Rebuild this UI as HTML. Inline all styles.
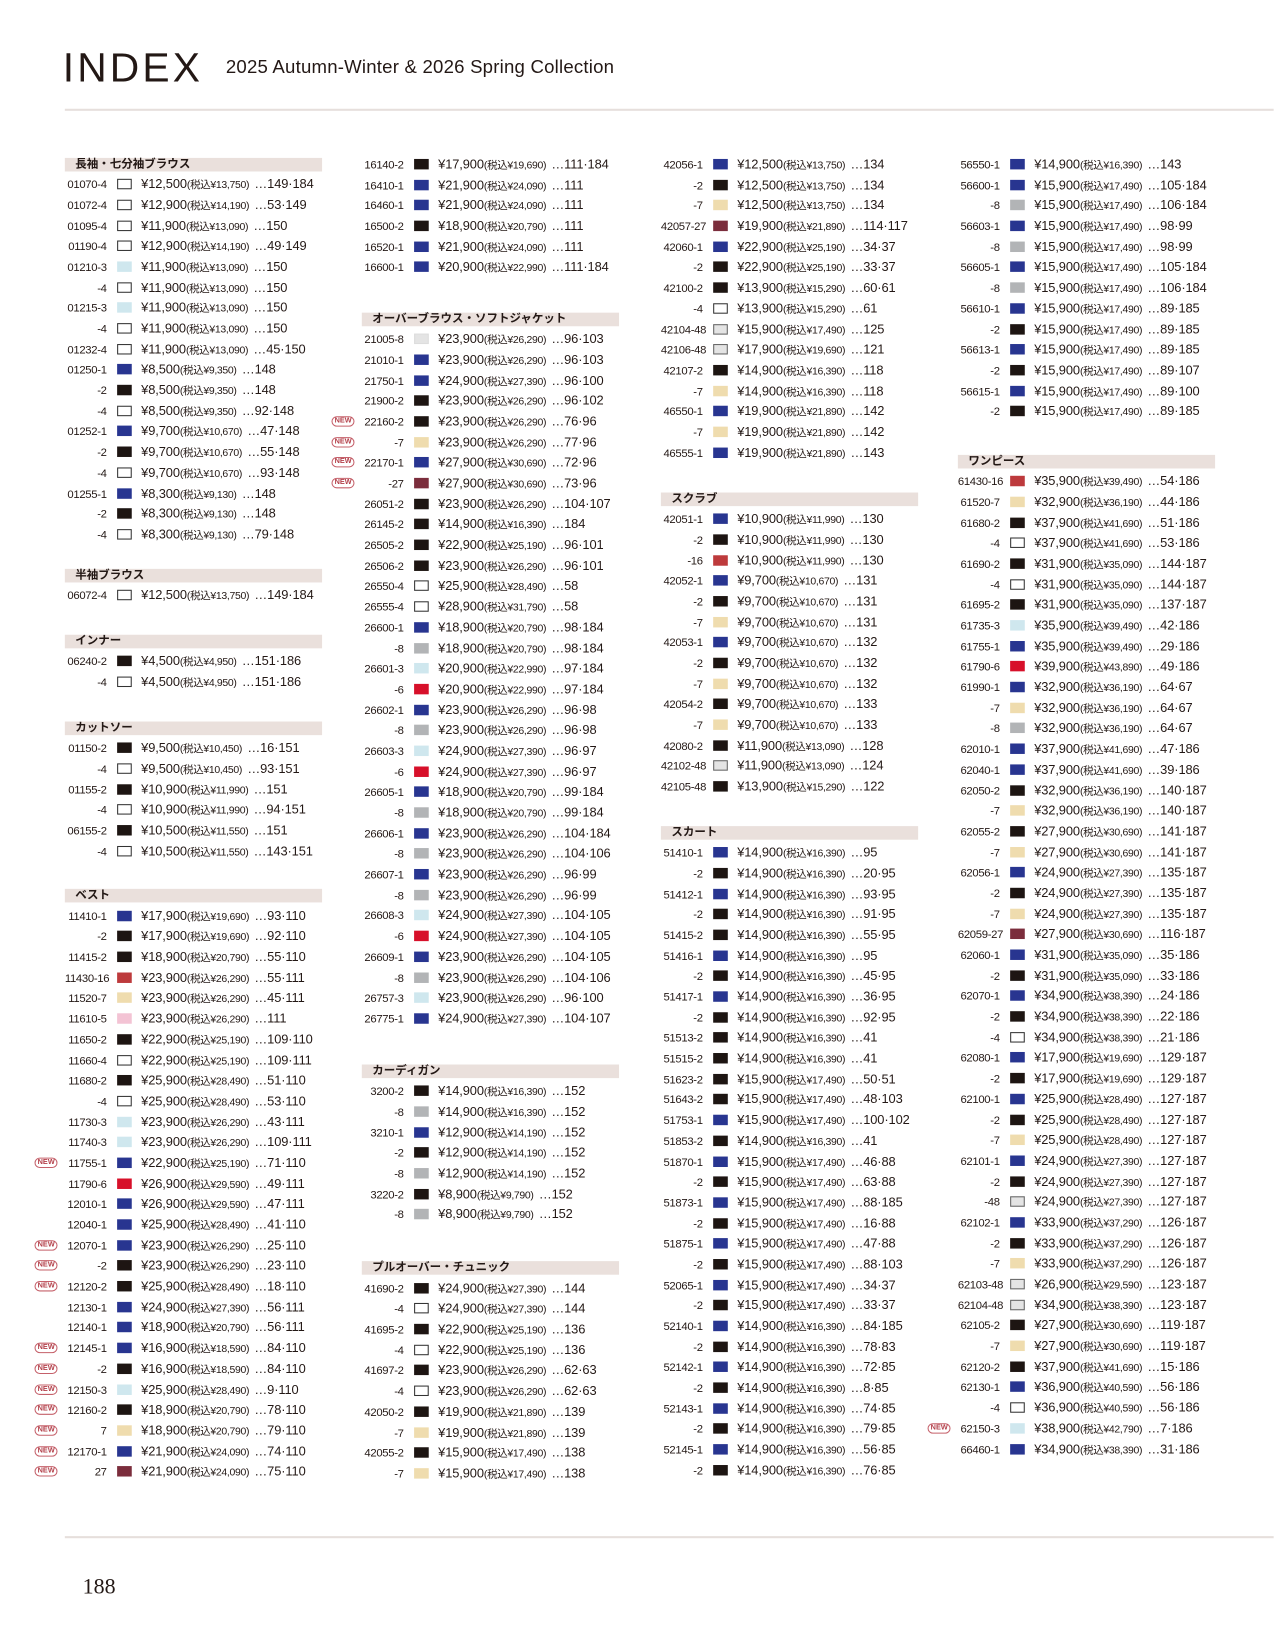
<!DOCTYPE html>
<html><head><meta charset="utf-8"><style>
html,body{margin:0;padding:0;background:#fff;}
body{width:1280px;height:1634px;overflow:hidden;position:relative;}
#pg{position:absolute;left:0;top:0;width:1224px;height:1563px;transform:scale(1.0457);transform-origin:0 0;font-family:"Liberation Sans","Noto Sans CJK JP",sans-serif;color:#231815;}
.t1{position:absolute;left:60px;top:44px;font-size:39px;letter-spacing:3px;font-weight:300;line-height:44px;}
.t2{position:absolute;left:216px;top:53px;font-size:17.8px;line-height:22px;letter-spacing:.2px;}
.hl{position:absolute;left:62px;width:1156px;height:2px;background:#e6dfdc;}
.sec{position:absolute;width:280px;}
.h{height:13px;background:#eae0dc;font-size:11px;font-weight:bold;line-height:13px;padding-left:10px;width:236px;margin-bottom:2.7px;}
.r{height:19.7px;line-height:19.7px;position:relative;white-space:nowrap;}
.r b{font-weight:normal;display:inline-block;width:40px;text-align:right;font-size:10.8px;letter-spacing:-.3px;}
.r s{display:inline-block;width:14px;height:10px;margin:0 9px 0 10px;vertical-align:-1px;box-sizing:border-box;}
.r span{font-size:12.3px;letter-spacing:-.1px;}
.r small{font-size:10px;letter-spacing:-.3px;}
.r small::after{content:"";display:inline-block;width:5px;}
.r i{position:absolute;left:-29px;top:5px;font-style:normal;font-size:7px;color:#b3404a;border:1px solid #c5606a;border-radius:6px;padding:0 2px;line-height:8px;font-weight:bold;}
.k{background:#1d1512}.u{background:#283590}.w{border:1px solid #333;background:#fff}.g{background:#b2b4b6}.l{background:#cfe7ee}.e{background:#efdcae}.rd{background:#d7102a}.m{background:#7b2d3c}.p{background:#f3c3d4}.d{background:#e4e4e4;border:1px solid #666}.dr{background:#bd3a3c}
.pn{position:absolute;left:79px;top:1505px;font-family:"Liberation Serif",serif;font-size:21px;}
</style></head><body><div id="pg">
<div class="t1">INDEX</div>
<div class="t2">2025 Autumn-Winter &amp; 2026 Spring Collection</div>
<div class="hl" style="top:104px"></div>
<div class="hl" style="top:1469px"></div>
<div class="pn">188</div>

<!-- col1 -->
<div class="sec" style="left:62px;top:150.5px"><div class="h">長袖・七分袖ブラウス</div>
<div class="r"><b>01070-4</b><s class="w"></s><span>¥12,500<small>(税込¥13,750)</small>…149·184</span></div>
<div class="r"><b>01072-4</b><s class="w"></s><span>¥12,900<small>(税込¥14,190)</small>…53·149</span></div>
<div class="r"><b>01095-4</b><s class="w"></s><span>¥11,900<small>(税込¥13,090)</small>…150</span></div>
<div class="r"><b>01190-4</b><s class="w"></s><span>¥12,900<small>(税込¥14,190)</small>…49·149</span></div>
<div class="r"><b>01210-3</b><s class="l"></s><span>¥11,900<small>(税込¥13,090)</small>…150</span></div>
<div class="r"><b>-4</b><s class="w"></s><span>¥11,900<small>(税込¥13,090)</small>…150</span></div>
<div class="r"><b>01215-3</b><s class="l"></s><span>¥11,900<small>(税込¥13,090)</small>…150</span></div>
<div class="r"><b>-4</b><s class="w"></s><span>¥11,900<small>(税込¥13,090)</small>…150</span></div>
<div class="r"><b>01232-4</b><s class="w"></s><span>¥11,900<small>(税込¥13,090)</small>…45·150</span></div>
<div class="r"><b>01250-1</b><s class="u"></s><span>¥8,500<small>(税込¥9,350)</small>…148</span></div>
<div class="r"><b>-2</b><s class="k"></s><span>¥8,500<small>(税込¥9,350)</small>…148</span></div>
<div class="r"><b>-4</b><s class="w"></s><span>¥8,500<small>(税込¥9,350)</small>…92·148</span></div>
<div class="r"><b>01252-1</b><s class="u"></s><span>¥9,700<small>(税込¥10,670)</small>…47·148</span></div>
<div class="r"><b>-2</b><s class="k"></s><span>¥9,700<small>(税込¥10,670)</small>…55·148</span></div>
<div class="r"><b>-4</b><s class="w"></s><span>¥9,700<small>(税込¥10,670)</small>…93·148</span></div>
<div class="r"><b>01255-1</b><s class="u"></s><span>¥8,300<small>(税込¥9,130)</small>…148</span></div>
<div class="r"><b>-2</b><s class="k"></s><span>¥8,300<small>(税込¥9,130)</small>…148</span></div>
<div class="r"><b>-4</b><s class="w"></s><span>¥8,300<small>(税込¥9,130)</small>…79·148</span></div>
</div>
<div class="sec" style="left:62px;top:543.5px"><div class="h">半袖ブラウス</div>
<div class="r"><b>06072-4</b><s class="w"></s><span>¥12,500<small>(税込¥13,750)</small>…149·184</span></div></div>
<div class="sec" style="left:62px;top:606.5px"><div class="h">インナー</div>
<div class="r"><b>06240-2</b><s class="k"></s><span>¥4,500<small>(税込¥4,950)</small>…151·186</span></div>
<div class="r"><b>-4</b><s class="w"></s><span>¥4,500<small>(税込¥4,950)</small>…151·186</span></div></div>
<div class="sec" style="left:62px;top:689.5px"><div class="h">カットソー</div>
<div class="r"><b>01150-2</b><s class="k"></s><span>¥9,500<small>(税込¥10,450)</small>…16·151</span></div>
<div class="r"><b>-4</b><s class="w"></s><span>¥9,500<small>(税込¥10,450)</small>…93·151</span></div>
<div class="r"><b>01155-2</b><s class="k"></s><span>¥10,900<small>(税込¥11,990)</small>…151</span></div>
<div class="r"><b>-4</b><s class="w"></s><span>¥10,900<small>(税込¥11,990)</small>…94·151</span></div>
<div class="r"><b>06155-2</b><s class="k"></s><span>¥10,500<small>(税込¥11,550)</small>…151</span></div>
<div class="r"><b>-4</b><s class="w"></s><span>¥10,500<small>(税込¥11,550)</small>…143·151</span></div></div>
<div class="sec" style="left:62px;top:850px"><div class="h">ベスト</div>
<div class="r"><b>11410-1</b><s class="u"></s><span>¥17,900<small>(税込¥19,690)</small>…93·110</span></div>
<div class="r"><b>-2</b><s class="k"></s><span>¥17,900<small>(税込¥19,690)</small>…92·110</span></div>
<div class="r"><b>11415-2</b><s class="k"></s><span>¥18,900<small>(税込¥20,790)</small>…55·110</span></div>
<div class="r"><b>11430-16</b><s class="dr"></s><span>¥23,900<small>(税込¥26,290)</small>…55·111</span></div>
<div class="r"><b>11520-7</b><s class="e"></s><span>¥23,900<small>(税込¥26,290)</small>…45·111</span></div>
<div class="r"><b>11610-5</b><s class="p"></s><span>¥23,900<small>(税込¥26,290)</small>…111</span></div>
<div class="r"><b>11650-2</b><s class="k"></s><span>¥22,900<small>(税込¥25,190)</small>…109·110</span></div>
<div class="r"><b>11660-4</b><s class="w"></s><span>¥22,900<small>(税込¥25,190)</small>…109·111</span></div>
<div class="r"><b>11680-2</b><s class="k"></s><span>¥25,900<small>(税込¥28,490)</small>…51·110</span></div>
<div class="r"><b>-4</b><s class="w"></s><span>¥25,900<small>(税込¥28,490)</small>…53·110</span></div>
<div class="r"><b>11730-3</b><s class="l"></s><span>¥23,900<small>(税込¥26,290)</small>…43·111</span></div>
<div class="r"><b>11740-3</b><s class="l"></s><span>¥23,900<small>(税込¥26,290)</small>…109·111</span></div>
<div class="r"><i>NEW</i><b>11755-1</b><s class="u"></s><span>¥22,900<small>(税込¥25,190)</small>…71·110</span></div>
<div class="r"><b>11790-6</b><s class="rd"></s><span>¥26,900<small>(税込¥29,590)</small>…49·111</span></div>
<div class="r"><b>12010-1</b><s class="u"></s><span>¥26,900<small>(税込¥29,590)</small>…47·111</span></div>
<div class="r"><b>12040-1</b><s class="u"></s><span>¥25,900<small>(税込¥28,490)</small>…41·110</span></div>
<div class="r"><i>NEW</i><b>12070-1</b><s class="u"></s><span>¥23,900<small>(税込¥26,290)</small>…25·110</span></div>
<div class="r"><i>NEW</i><b>-2</b><s class="k"></s><span>¥23,900<small>(税込¥26,290)</small>…23·110</span></div>
<div class="r"><i>NEW</i><b>12120-2</b><s class="k"></s><span>¥25,900<small>(税込¥28,490)</small>…18·110</span></div>
<div class="r"><b>12130-1</b><s class="u"></s><span>¥24,900<small>(税込¥27,390)</small>…56·111</span></div>
<div class="r"><b>12140-1</b><s class="u"></s><span>¥18,900<small>(税込¥20,790)</small>…56·111</span></div>
<div class="r"><i>NEW</i><b>12145-1</b><s class="u"></s><span>¥16,900<small>(税込¥18,590)</small>…84·110</span></div>
<div class="r"><i>NEW</i><b>-2</b><s class="k"></s><span>¥16,900<small>(税込¥18,590)</small>…84·110</span></div>
<div class="r"><i>NEW</i><b>12150-3</b><s class="l"></s><span>¥25,900<small>(税込¥28,490)</small>…9·110</span></div>
<div class="r"><i>NEW</i><b>12160-2</b><s class="k"></s><span>¥18,900<small>(税込¥20,790)</small>…78·110</span></div>
<div class="r"><i>NEW</i><b>7</b><s class="e"></s><span>¥18,900<small>(税込¥20,790)</small>…79·110</span></div>
<div class="r"><i>NEW</i><b>12170-1</b><s class="u"></s><span>¥21,900<small>(税込¥24,090)</small>…74·110</span></div>
<div class="r"><i>NEW</i><b>27</b><s class="m"></s><span>¥21,900<small>(税込¥24,090)</small>…75·110</span></div>
</div>

<!-- col2 -->
<div class="sec" style="left:346px;top:147px">
<div class="r"><b>16140-2</b><s class="k"></s><span>¥17,900<small>(税込¥19,690)</small>…111·184</span></div>
<div class="r"><b>16410-1</b><s class="u"></s><span>¥21,900<small>(税込¥24,090)</small>…111</span></div>
<div class="r"><b>16460-1</b><s class="u"></s><span>¥21,900<small>(税込¥24,090)</small>…111</span></div>
<div class="r"><b>16500-2</b><s class="k"></s><span>¥18,900<small>(税込¥20,790)</small>…111</span></div>
<div class="r"><b>16520-1</b><s class="u"></s><span>¥21,900<small>(税込¥24,090)</small>…111</span></div>
<div class="r"><b>16600-1</b><s class="u"></s><span>¥20,900<small>(税込¥22,990)</small>…111·184</span></div></div>
<div class="sec" style="left:346px;top:298.5px"><div class="h">オーバーブラウス・ソフトジャケット</div>
<div class="r"><b>21005-8</b><s class="d" style="border-color:#ddd"></s><span>¥23,900<small>(税込¥26,290)</small>…96·103</span></div>
<div class="r"><b>21010-1</b><s class="u"></s><span>¥23,900<small>(税込¥26,290)</small>…96·103</span></div>
<div class="r"><b>21750-1</b><s class="u"></s><span>¥24,900<small>(税込¥27,390)</small>…96·100</span></div>
<div class="r"><b>21900-2</b><s class="k"></s><span>¥23,900<small>(税込¥26,290)</small>…96·102</span></div>
<div class="r"><i>NEW</i><b>22160-2</b><s class="k"></s><span>¥23,900<small>(税込¥26,290)</small>…76·96</span></div>
<div class="r"><i>NEW</i><b>-7</b><s class="e"></s><span>¥23,900<small>(税込¥26,290)</small>…77·96</span></div>
<div class="r"><i>NEW</i><b>22170-1</b><s class="u"></s><span>¥27,900<small>(税込¥30,690)</small>…72·96</span></div>
<div class="r"><i>NEW</i><b>-27</b><s class="m"></s><span>¥27,900<small>(税込¥30,690)</small>…73·96</span></div>
<div class="r"><b>26051-2</b><s class="k"></s><span>¥23,900<small>(税込¥26,290)</small>…104·107</span></div>
<div class="r"><b>26145-2</b><s class="k"></s><span>¥14,900<small>(税込¥16,390)</small>…184</span></div>
<div class="r"><b>26505-2</b><s class="k"></s><span>¥22,900<small>(税込¥25,190)</small>…96·101</span></div>
<div class="r"><b>26506-2</b><s class="k"></s><span>¥23,900<small>(税込¥26,290)</small>…96·101</span></div>
<div class="r"><b>26550-4</b><s class="w"></s><span>¥25,900<small>(税込¥28,490)</small>…58</span></div>
<div class="r"><b>26555-4</b><s class="w"></s><span>¥28,900<small>(税込¥31,790)</small>…58</span></div>
<div class="r"><b>26600-1</b><s class="u"></s><span>¥18,900<small>(税込¥20,790)</small>…98·184</span></div>
<div class="r"><b>-8</b><s class="g"></s><span>¥18,900<small>(税込¥20,790)</small>…98·184</span></div>
<div class="r"><b>26601-3</b><s class="l"></s><span>¥20,900<small>(税込¥22,990)</small>…97·184</span></div>
<div class="r"><b>-6</b><s class="rd"></s><span>¥20,900<small>(税込¥22,990)</small>…97·184</span></div>
<div class="r"><b>26602-1</b><s class="u"></s><span>¥23,900<small>(税込¥26,290)</small>…96·98</span></div>
<div class="r"><b>-8</b><s class="g"></s><span>¥23,900<small>(税込¥26,290)</small>…96·98</span></div>
<div class="r"><b>26603-3</b><s class="l"></s><span>¥24,900<small>(税込¥27,390)</small>…96·97</span></div>
<div class="r"><b>-6</b><s class="rd"></s><span>¥24,900<small>(税込¥27,390)</small>…96·97</span></div>
<div class="r"><b>26605-1</b><s class="u"></s><span>¥18,900<small>(税込¥20,790)</small>…99·184</span></div>
<div class="r"><b>-8</b><s class="g"></s><span>¥18,900<small>(税込¥20,790)</small>…99·184</span></div>
<div class="r"><b>26606-1</b><s class="u"></s><span>¥23,900<small>(税込¥26,290)</small>…104·184</span></div>
<div class="r"><b>-8</b><s class="g"></s><span>¥23,900<small>(税込¥26,290)</small>…104·106</span></div>
<div class="r"><b>26607-1</b><s class="u"></s><span>¥23,900<small>(税込¥26,290)</small>…96·99</span></div>
<div class="r"><b>-8</b><s class="g"></s><span>¥23,900<small>(税込¥26,290)</small>…96·99</span></div>
<div class="r"><b>26608-3</b><s class="l"></s><span>¥24,900<small>(税込¥27,390)</small>…104·105</span></div>
<div class="r"><b>-6</b><s class="rd"></s><span>¥24,900<small>(税込¥27,390)</small>…104·105</span></div>
<div class="r"><b>26609-1</b><s class="u"></s><span>¥23,900<small>(税込¥26,290)</small>…104·105</span></div>
<div class="r"><b>-8</b><s class="g"></s><span>¥23,900<small>(税込¥26,290)</small>…104·106</span></div>
<div class="r"><b>26757-3</b><s class="l"></s><span>¥23,900<small>(税込¥26,290)</small>…96·100</span></div>
<div class="r"><b>26775-1</b><s class="u"></s><span>¥24,900<small>(税込¥27,390)</small>…104·107</span></div></div>
<div class="sec" style="left:346px;top:1017.5px"><div class="h">カーディガン</div>
<div class="r"><b>3200-2</b><s class="k"></s><span>¥14,900<small>(税込¥16,390)</small>…152</span></div>
<div class="r"><b>-8</b><s class="g"></s><span>¥14,900<small>(税込¥16,390)</small>…152</span></div>
<div class="r"><b>3210-1</b><s class="u"></s><span>¥12,900<small>(税込¥14,190)</small>…152</span></div>
<div class="r"><b>-2</b><s class="k"></s><span>¥12,900<small>(税込¥14,190)</small>…152</span></div>
<div class="r"><b>-8</b><s class="g"></s><span>¥12,900<small>(税込¥14,190)</small>…152</span></div>
<div class="r"><b>3220-2</b><s class="k"></s><span>¥8,900<small>(税込¥9,790)</small>…152</span></div>
<div class="r"><b>-8</b><s class="g"></s><span>¥8,900<small>(税込¥9,790)</small>…152</span></div></div>
<div class="sec" style="left:346px;top:1206px"><div class="h">プルオーバー・チュニック</div>
<div class="r"><b>41690-2</b><s class="k"></s><span>¥24,900<small>(税込¥27,390)</small>…144</span></div>
<div class="r"><b>-4</b><s class="w"></s><span>¥24,900<small>(税込¥27,390)</small>…144</span></div>
<div class="r"><b>41695-2</b><s class="k"></s><span>¥22,900<small>(税込¥25,190)</small>…136</span></div>
<div class="r"><b>-4</b><s class="w"></s><span>¥22,900<small>(税込¥25,190)</small>…136</span></div>
<div class="r"><b>41697-2</b><s class="k"></s><span>¥23,900<small>(税込¥26,290)</small>…62·63</span></div>
<div class="r"><b>-4</b><s class="w"></s><span>¥23,900<small>(税込¥26,290)</small>…62·63</span></div>
<div class="r"><b>42050-2</b><s class="k"></s><span>¥19,900<small>(税込¥21,890)</small>…139</span></div>
<div class="r"><b>-7</b><s class="e"></s><span>¥19,900<small>(税込¥21,890)</small>…139</span></div>
<div class="r"><b>42055-2</b><s class="k"></s><span>¥15,900<small>(税込¥17,490)</small>…138</span></div>
<div class="r"><b>-7</b><s class="e"></s><span>¥15,900<small>(税込¥17,490)</small>…138</span></div></div>

<!-- col3 -->
<div class="sec" style="left:632px;top:147px">
<div class="r"><b>42056-1</b><s class="u"></s><span>¥12,500<small>(税込¥13,750)</small>…134</span></div>
<div class="r"><b>-2</b><s class="k"></s><span>¥12,500<small>(税込¥13,750)</small>…134</span></div>
<div class="r"><b>-7</b><s class="e"></s><span>¥12,500<small>(税込¥13,750)</small>…134</span></div>
<div class="r"><b>42057-27</b><s class="m"></s><span>¥19,900<small>(税込¥21,890)</small>…114·117</span></div>
<div class="r"><b>42060-1</b><s class="u"></s><span>¥22,900<small>(税込¥25,190)</small>…34·37</span></div>
<div class="r"><b>-2</b><s class="k"></s><span>¥22,900<small>(税込¥25,190)</small>…33·37</span></div>
<div class="r"><b>42100-2</b><s class="k"></s><span>¥13,900<small>(税込¥15,290)</small>…60·61</span></div>
<div class="r"><b>-4</b><s class="w"></s><span>¥13,900<small>(税込¥15,290)</small>…61</span></div>
<div class="r"><b>42104-48</b><s class="d"></s><span>¥15,900<small>(税込¥17,490)</small>…125</span></div>
<div class="r"><b>42106-48</b><s class="d"></s><span>¥17,900<small>(税込¥19,690)</small>…121</span></div>
<div class="r"><b>42107-2</b><s class="k"></s><span>¥14,900<small>(税込¥16,390)</small>…118</span></div>
<div class="r"><b>-7</b><s class="e"></s><span>¥14,900<small>(税込¥16,390)</small>…118</span></div>
<div class="r"><b>46550-1</b><s class="u"></s><span>¥19,900<small>(税込¥21,890)</small>…142</span></div>
<div class="r"><b>-7</b><s class="e"></s><span>¥19,900<small>(税込¥21,890)</small>…142</span></div>
<div class="r"><b>46555-1</b><s class="u"></s><span>¥19,900<small>(税込¥21,890)</small>…143</span></div></div>
<div class="sec" style="left:632px;top:470.5px"><div class="h">スクラブ</div>
<div class="r"><b>42051-1</b><s class="u"></s><span>¥10,900<small>(税込¥11,990)</small>…130</span></div>
<div class="r"><b>-2</b><s class="k"></s><span>¥10,900<small>(税込¥11,990)</small>…130</span></div>
<div class="r"><b>-16</b><s class="dr"></s><span>¥10,900<small>(税込¥11,990)</small>…130</span></div>
<div class="r"><b>42052-1</b><s class="u"></s><span>¥9,700<small>(税込¥10,670)</small>…131</span></div>
<div class="r"><b>-2</b><s class="k"></s><span>¥9,700<small>(税込¥10,670)</small>…131</span></div>
<div class="r"><b>-7</b><s class="e"></s><span>¥9,700<small>(税込¥10,670)</small>…131</span></div>
<div class="r"><b>42053-1</b><s class="u"></s><span>¥9,700<small>(税込¥10,670)</small>…132</span></div>
<div class="r"><b>-2</b><s class="k"></s><span>¥9,700<small>(税込¥10,670)</small>…132</span></div>
<div class="r"><b>-7</b><s class="e"></s><span>¥9,700<small>(税込¥10,670)</small>…132</span></div>
<div class="r"><b>42054-2</b><s class="k"></s><span>¥9,700<small>(税込¥10,670)</small>…133</span></div>
<div class="r"><b>-7</b><s class="e"></s><span>¥9,700<small>(税込¥10,670)</small>…133</span></div>
<div class="r"><b>42080-2</b><s class="k"></s><span>¥11,900<small>(税込¥13,090)</small>…128</span></div>
<div class="r"><b>42102-48</b><s class="d"></s><span>¥11,900<small>(税込¥13,090)</small>…124</span></div>
<div class="r"><b>42105-48</b><s class="k"></s><span>¥13,900<small>(税込¥15,290)</small>…122</span></div></div>
<div class="sec" style="left:632px;top:789.5px"><div class="h">スカート</div>
<div class="r"><b>51410-1</b><s class="u"></s><span>¥14,900<small>(税込¥16,390)</small>…95</span></div>
<div class="r"><b>-2</b><s class="k"></s><span>¥14,900<small>(税込¥16,390)</small>…20·95</span></div>
<div class="r"><b>51412-1</b><s class="u"></s><span>¥14,900<small>(税込¥16,390)</small>…93·95</span></div>
<div class="r"><b>-2</b><s class="k"></s><span>¥14,900<small>(税込¥16,390)</small>…91·95</span></div>
<div class="r"><b>51415-2</b><s class="k"></s><span>¥14,900<small>(税込¥16,390)</small>…55·95</span></div>
<div class="r"><b>51416-1</b><s class="u"></s><span>¥14,900<small>(税込¥16,390)</small>…95</span></div>
<div class="r"><b>-2</b><s class="k"></s><span>¥14,900<small>(税込¥16,390)</small>…45·95</span></div>
<div class="r"><b>51417-1</b><s class="u"></s><span>¥14,900<small>(税込¥16,390)</small>…36·95</span></div>
<div class="r"><b>-2</b><s class="k"></s><span>¥14,900<small>(税込¥16,390)</small>…92·95</span></div>
<div class="r"><b>51513-2</b><s class="k"></s><span>¥14,900<small>(税込¥16,390)</small>…41</span></div>
<div class="r"><b>51515-2</b><s class="k"></s><span>¥14,900<small>(税込¥16,390)</small>…41</span></div>
<div class="r"><b>51623-2</b><s class="k"></s><span>¥15,900<small>(税込¥17,490)</small>…50·51</span></div>
<div class="r"><b>51643-2</b><s class="k"></s><span>¥15,900<small>(税込¥17,490)</small>…48·103</span></div>
<div class="r"><b>51753-1</b><s class="u"></s><span>¥15,900<small>(税込¥17,490)</small>…100·102</span></div>
<div class="r"><b>51853-2</b><s class="k"></s><span>¥14,900<small>(税込¥16,390)</small>…41</span></div>
<div class="r"><b>51870-1</b><s class="u"></s><span>¥15,900<small>(税込¥17,490)</small>…46·88</span></div>
<div class="r"><b>-2</b><s class="k"></s><span>¥15,900<small>(税込¥17,490)</small>…63·88</span></div>
<div class="r"><b>51873-1</b><s class="u"></s><span>¥15,900<small>(税込¥17,490)</small>…88·185</span></div>
<div class="r"><b>-2</b><s class="k"></s><span>¥15,900<small>(税込¥17,490)</small>…16·88</span></div>
<div class="r"><b>51875-1</b><s class="u"></s><span>¥15,900<small>(税込¥17,490)</small>…47·88</span></div>
<div class="r"><b>-2</b><s class="k"></s><span>¥15,900<small>(税込¥17,490)</small>…88·103</span></div>
<div class="r"><b>52065-1</b><s class="u"></s><span>¥15,900<small>(税込¥17,490)</small>…34·37</span></div>
<div class="r"><b>-2</b><s class="k"></s><span>¥15,900<small>(税込¥17,490)</small>…33·37</span></div>
<div class="r"><b>52140-1</b><s class="u"></s><span>¥14,900<small>(税込¥16,390)</small>…84·185</span></div>
<div class="r"><b>-2</b><s class="k"></s><span>¥14,900<small>(税込¥16,390)</small>…78·83</span></div>
<div class="r"><b>52142-1</b><s class="u"></s><span>¥14,900<small>(税込¥16,390)</small>…72·85</span></div>
<div class="r"><b>-2</b><s class="k"></s><span>¥14,900<small>(税込¥16,390)</small>…8·85</span></div>
<div class="r"><b>52143-1</b><s class="u"></s><span>¥14,900<small>(税込¥16,390)</small>…74·85</span></div>
<div class="r"><b>-2</b><s class="k"></s><span>¥14,900<small>(税込¥16,390)</small>…79·85</span></div>
<div class="r"><b>52145-1</b><s class="u"></s><span>¥14,900<small>(税込¥16,390)</small>…56·85</span></div>
<div class="r"><b>-2</b><s class="k"></s><span>¥14,900<small>(税込¥16,390)</small>…76·85</span></div></div>

<!-- col4 -->
<div class="sec" style="left:916px;top:147px">
<div class="r"><b>56550-1</b><s class="u"></s><span>¥14,900<small>(税込¥16,390)</small>…143</span></div>
<div class="r"><b>56600-1</b><s class="u"></s><span>¥15,900<small>(税込¥17,490)</small>…105·184</span></div>
<div class="r"><b>-8</b><s class="g"></s><span>¥15,900<small>(税込¥17,490)</small>…106·184</span></div>
<div class="r"><b>56603-1</b><s class="u"></s><span>¥15,900<small>(税込¥17,490)</small>…98·99</span></div>
<div class="r"><b>-8</b><s class="g"></s><span>¥15,900<small>(税込¥17,490)</small>…98·99</span></div>
<div class="r"><b>56605-1</b><s class="u"></s><span>¥15,900<small>(税込¥17,490)</small>…105·184</span></div>
<div class="r"><b>-8</b><s class="g"></s><span>¥15,900<small>(税込¥17,490)</small>…106·184</span></div>
<div class="r"><b>56610-1</b><s class="u"></s><span>¥15,900<small>(税込¥17,490)</small>…89·185</span></div>
<div class="r"><b>-2</b><s class="k"></s><span>¥15,900<small>(税込¥17,490)</small>…89·185</span></div>
<div class="r"><b>56613-1</b><s class="u"></s><span>¥15,900<small>(税込¥17,490)</small>…89·185</span></div>
<div class="r"><b>-2</b><s class="k"></s><span>¥15,900<small>(税込¥17,490)</small>…89·107</span></div>
<div class="r"><b>56615-1</b><s class="u"></s><span>¥15,900<small>(税込¥17,490)</small>…89·100</span></div>
<div class="r"><b>-2</b><s class="k"></s><span>¥15,900<small>(税込¥17,490)</small>…89·185</span></div></div>
<div class="sec" style="left:916px;top:434.5px"><div class="h">ワンピース</div>
<div class="r"><b>61430-16</b><s class="dr"></s><span>¥35,900<small>(税込¥39,490)</small>…54·186</span></div>
<div class="r"><b>61520-7</b><s class="e"></s><span>¥32,900<small>(税込¥36,190)</small>…44·186</span></div>
<div class="r"><b>61680-2</b><s class="k"></s><span>¥37,900<small>(税込¥41,690)</small>…51·186</span></div>
<div class="r"><b>-4</b><s class="w"></s><span>¥37,900<small>(税込¥41,690)</small>…53·186</span></div>
<div class="r"><b>61690-2</b><s class="k"></s><span>¥31,900<small>(税込¥35,090)</small>…144·187</span></div>
<div class="r"><b>-4</b><s class="w"></s><span>¥31,900<small>(税込¥35,090)</small>…144·187</span></div>
<div class="r"><b>61695-2</b><s class="k"></s><span>¥31,900<small>(税込¥35,090)</small>…137·187</span></div>
<div class="r"><b>61735-3</b><s class="l"></s><span>¥35,900<small>(税込¥39,490)</small>…42·186</span></div>
<div class="r"><b>61755-1</b><s class="u"></s><span>¥35,900<small>(税込¥39,490)</small>…29·186</span></div>
<div class="r"><b>61790-6</b><s class="rd"></s><span>¥39,900<small>(税込¥43,890)</small>…49·186</span></div>
<div class="r"><b>61990-1</b><s class="u"></s><span>¥32,900<small>(税込¥36,190)</small>…64·67</span></div>
<div class="r"><b>-7</b><s class="e"></s><span>¥32,900<small>(税込¥36,190)</small>…64·67</span></div>
<div class="r"><b>-8</b><s class="g"></s><span>¥32,900<small>(税込¥36,190)</small>…64·67</span></div>
<div class="r"><b>62010-1</b><s class="u"></s><span>¥37,900<small>(税込¥41,690)</small>…47·186</span></div>
<div class="r"><b>62040-1</b><s class="u"></s><span>¥37,900<small>(税込¥41,690)</small>…39·186</span></div>
<div class="r"><b>62050-2</b><s class="k"></s><span>¥32,900<small>(税込¥36,190)</small>…140·187</span></div>
<div class="r"><b>-7</b><s class="e"></s><span>¥32,900<small>(税込¥36,190)</small>…140·187</span></div>
<div class="r"><b>62055-2</b><s class="k"></s><span>¥27,900<small>(税込¥30,690)</small>…141·187</span></div>
<div class="r"><b>-7</b><s class="e"></s><span>¥27,900<small>(税込¥30,690)</small>…141·187</span></div>
<div class="r"><b>62056-1</b><s class="u"></s><span>¥24,900<small>(税込¥27,390)</small>…135·187</span></div>
<div class="r"><b>-2</b><s class="k"></s><span>¥24,900<small>(税込¥27,390)</small>…135·187</span></div>
<div class="r"><b>-7</b><s class="e"></s><span>¥24,900<small>(税込¥27,390)</small>…135·187</span></div>
<div class="r"><b>62059-27</b><s class="m"></s><span>¥27,900<small>(税込¥30,690)</small>…116·187</span></div>
<div class="r"><b>62060-1</b><s class="u"></s><span>¥31,900<small>(税込¥35,090)</small>…35·186</span></div>
<div class="r"><b>-2</b><s class="k"></s><span>¥31,900<small>(税込¥35,090)</small>…33·186</span></div>
<div class="r"><b>62070-1</b><s class="u"></s><span>¥34,900<small>(税込¥38,390)</small>…24·186</span></div>
<div class="r"><b>-2</b><s class="k"></s><span>¥34,900<small>(税込¥38,390)</small>…22·186</span></div>
<div class="r"><b>-4</b><s class="w"></s><span>¥34,900<small>(税込¥38,390)</small>…21·186</span></div>
<div class="r"><b>62080-1</b><s class="u"></s><span>¥17,900<small>(税込¥19,690)</small>…129·187</span></div>
<div class="r"><b>-2</b><s class="k"></s><span>¥17,900<small>(税込¥19,690)</small>…129·187</span></div>
<div class="r"><b>62100-1</b><s class="u"></s><span>¥25,900<small>(税込¥28,490)</small>…127·187</span></div>
<div class="r"><b>-2</b><s class="k"></s><span>¥25,900<small>(税込¥28,490)</small>…127·187</span></div>
<div class="r"><b>-7</b><s class="e"></s><span>¥25,900<small>(税込¥28,490)</small>…127·187</span></div>
<div class="r"><b>62101-1</b><s class="u"></s><span>¥24,900<small>(税込¥27,390)</small>…127·187</span></div>
<div class="r"><b>-2</b><s class="k"></s><span>¥24,900<small>(税込¥27,390)</small>…127·187</span></div>
<div class="r"><b>-48</b><s class="d"></s><span>¥24,900<small>(税込¥27,390)</small>…127·187</span></div>
<div class="r"><b>62102-1</b><s class="u"></s><span>¥33,900<small>(税込¥37,290)</small>…126·187</span></div>
<div class="r"><b>-2</b><s class="k"></s><span>¥33,900<small>(税込¥37,290)</small>…126·187</span></div>
<div class="r"><b>-7</b><s class="e"></s><span>¥33,900<small>(税込¥37,290)</small>…126·187</span></div>
<div class="r"><b>62103-48</b><s class="d"></s><span>¥26,900<small>(税込¥29,590)</small>…123·187</span></div>
<div class="r"><b>62104-48</b><s class="d"></s><span>¥34,900<small>(税込¥38,390)</small>…123·187</span></div>
<div class="r"><b>62105-2</b><s class="k"></s><span>¥27,900<small>(税込¥30,690)</small>…119·187</span></div>
<div class="r"><b>-7</b><s class="e"></s><span>¥27,900<small>(税込¥30,690)</small>…119·187</span></div>
<div class="r"><b>62120-2</b><s class="k"></s><span>¥37,900<small>(税込¥41,690)</small>…15·186</span></div>
<div class="r"><b>62130-1</b><s class="u"></s><span>¥36,900<small>(税込¥40,590)</small>…56·186</span></div>
<div class="r"><b>-4</b><s class="w"></s><span>¥36,900<small>(税込¥40,590)</small>…56·186</span></div>
<div class="r"><i>NEW</i><b>62150-3</b><s class="l"></s><span>¥38,900<small>(税込¥42,790)</small>…7·186</span></div>
<div class="r"><b>66460-1</b><s class="u"></s><span>¥34,900<small>(税込¥38,390)</small>…31·186</span></div></div>
</div></body></html>
